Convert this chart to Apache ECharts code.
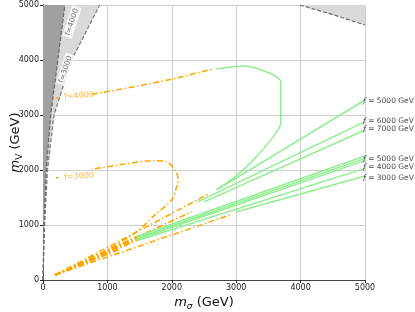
<!DOCTYPE html>
<html><head><meta charset="utf-8">
<script src="https://cdn.jsdelivr.net/npm/echarts@6/dist/echarts.min.js"></script>
<style>html,body{margin:0;padding:0;background:#fff}#c{width:415px;height:312px}</style>
</head><body><div id="c"></div>
<script>
// ---- data (GeV) ----
const darkBoundary = [[0,0],[15,1000],[50,2000],[120,3000],[230,4000],[340,5000]];
const lightBoundary = [[0,0],[25,1000],[70,2000],[170,3000],[445,4000],[880,5000]];
const topRightBoundary = [[3990,5000],[4500,4825],[5000,4636]];

const f3000Orange = [[186,91],[989,545],[1455,879],[1765,1212],[1998,1455],[2076,1697],[2101,1758],[2076,1940],[1920,2151],[1713,2169],[1247,2103],[756,2013]];
const f3000Dot = [[200,1858],[240,1865]];
const f4000Orange = [[756,3376],[989,3424],[1506,3533],[2019,3655],[2620,3831]];
const f4000Dot = [[200,3302],[240,3308]];
const f4000OrangeLow = [[186,91],[2593,1576]];
const f4000Green = [[2697,1649],[2955,1849],[3266,2182],[3576,2606],[3691,2849],[3691,3606],[3525,3758],[3110,3891],[2686,3836]];

const orangeRays = [
  [[186,91],[2309,1242]],
  [[186,91],[2904,1182]],
  [[186,91],[1455,790]],
  [[186,91],[1455,760]],
  [[186,91],[1455,735]],
  [[186,91],[1455,715]],
  [[186,91],[1200,560]],
  [[186,91],[1000,470]],
  [[186,91],[900,420]],
  [[186,91],[800,400]]
];
const greenRays = [
  [[2697,1640],[5000,3273]],
  [[2400,1420],[5000,2879]],
  [[2500,1420],[5000,2727]],
  [[1455,790],[5000,2255]],
  [[1455,760],[5000,2212]],
  [[1455,735],[5000,2170]],
  [[1455,715],[5000,2030]],
  [[3008,1242],[5000,1891]]
];
const rightLabels = [[5000,3250,'5000'],[5000,2890,'6000'],[5000,2740,'7000'],[5000,2194,'5000'],[5000,2048,'4000'],[5000,1861,'3000']];
const fLabels = [[560,1885,'f=3000'],[560,3350,'f=4000']];
const grayLabels = [[450,4690,'f=4000'],[350,3830,'f=3000']];

const ORANGE = '#FFA500', GREEN = '#90EE90';
const dashDot = [6,2.5,1.5,2.5];

function poly(points, color, z){
  return {type:'custom', silent:true, z:z, data:points.map((p,i)=>[p[0],p[1]]),
    encode:{x:0,y:1},
    renderItem:function(params, api){
      if(params.dataIndex!==0) return null;
      return {type:'polygon', shape:{points:points.map(p=>api.coord(p))}, style:{fill:color}};
    }};
}
function line(data, color, type, width, z){
  return {type:'line', data:data, showSymbol:false, silent:true, z:z||3,
    lineStyle:{color:color, type:type||'solid', width:width||1.5}, animation:false};
}

const series = [];
series.push(poly([[0,0]].concat(lightBoundary,[[0,5000]]), '#d9d9d9', 1));
series.push(poly([[0,0]].concat(darkBoundary,[[0,5000]]), '#a0a0a0', 1));
series.push(poly(topRightBoundary.concat([[5000,5000]]), '#d9d9d9', 1));
series.push(line(lightBoundary, '#7a7a7a', [4,2], 1.2, 2));
series.push(line(darkBoundary, '#666666', [4,2], 1.2, 2));
series.push(line(topRightBoundary, '#6e6e6e', [4,2], 1.2, 2));

orangeRays.forEach(r=>series.push(line(r, ORANGE, dashDot, 1.5, 4)));
series.push(line(f3000Orange, ORANGE, dashDot, 1.5, 4));
series[series.length-1].smooth = 0.3;
series.push(line(f3000Dot, ORANGE, 'solid', 1.5, 4));
series.push(line(f4000Orange, ORANGE, dashDot, 1.5, 4));
series.push(line(f4000Dot, ORANGE, 'solid', 1.5, 4));
series.push(line(f4000OrangeLow, ORANGE, dashDot, 1.5, 4));
greenRays.forEach(r=>series.push(line(r, GREEN, 'solid', 1.5, 5)));
series.push(line(f4000Green, GREEN, 'solid', 1.5, 5));
series[series.length-1].smooth = 0.25;

series.push({type:'scatter', symbolSize:0, silent:true, z:10, data:fLabels.map(d=>({value:[d[0],d[1]], name:d[2]})),
  label:{show:true, formatter:p=>p.name, color:ORANGE, fontSize:8, fontFamily:'DejaVu Sans', rotate:4, position:'inside'}});
series.push({type:'scatter', symbolSize:0, silent:true, z:10, data:grayLabels.map(d=>({value:[d[0],d[1]], name:d[2]})),
  label:{show:true, formatter:p=>p.name, color:'#555', fontSize:7.5, fontFamily:'DejaVu Sans', rotate:72, position:'inside',
    backgroundColor:'#fff', padding:[1,2]}});
series.push({type:'scatter', symbolSize:0, silent:true, z:10, data:rightLabels.map(d=>({value:[d[0],d[1]], name:d[2]})),
  label:{show:true, formatter:p=>'{i|f} = '+p.name+' GeV', color:'#111', fontSize:7.5, fontFamily:'DejaVu Sans', position:'right', distance:0, offset:[-2,0],
    rich:{i:{fontStyle:'italic', fontSize:7.5, fontFamily:'DejaVu Serif'}}}});

const axisCommon = {
  type:'value', min:0, max:5000, interval:1000,
  axisLine:{show:true, onZero:false, lineStyle:{color:'#222', width:1}},
  axisTick:{show:true, length:3, lineStyle:{color:'#222'}},
  axisLabel:{fontSize:8, color:'#222', fontFamily:'DejaVu Sans', margin:4, formatter:v=>String(v)},
  splitLine:{show:true, lineStyle:{color:'#cfcfcf', width:1}}
};
const chart = echarts.init(document.getElementById('c'), null, {renderer:'canvas'});
chart.setOption({
  animation:false,
  grid:{left:43, right:50, top:5, bottom:32, containLabel:false, outerBoundsMode:'none'},
  xAxis:[Object.assign({}, axisCommon, {position:'bottom', name:'{m|m}{s|σ} (GeV)', nameLocation:'middle', nameGap:14, nameMoveOverlap:false,
      nameTextStyle:{fontSize:13, color:'#111', fontFamily:'DejaVu Sans', rich:{m:{fontStyle:'italic', fontSize:13, fontFamily:'DejaVu Sans'}, s:{fontStyle:'italic', fontSize:9, verticalAlign:'bottom', padding:[8,0,0,0], fontFamily:'DejaVu Sans'}}}}),
    {type:'value', min:0, max:5000, position:'top', axisLine:{show:true, lineStyle:{color:'#444'}}, axisTick:{show:false}, axisLabel:{show:false}, splitLine:{show:false}}],
  yAxis:[Object.assign({}, axisCommon, {position:'left', name:'{m|m}{s|V} (GeV)', nameLocation:'middle', nameGap:19, nameMoveOverlap:false,
      nameTextStyle:{fontSize:13, color:'#111', fontFamily:'DejaVu Sans', rich:{m:{fontStyle:'italic', fontSize:13, fontFamily:'DejaVu Sans'}, s:{fontSize:9, verticalAlign:'bottom', padding:[8,0,0,0], fontFamily:'DejaVu Sans'}}}}),
    {type:'value', min:0, max:5000, position:'right', axisLine:{show:true, lineStyle:{color:'#222'}}, axisTick:{show:false}, axisLabel:{show:false}, splitLine:{show:false}}],
  series:series
});
</script></body></html>
